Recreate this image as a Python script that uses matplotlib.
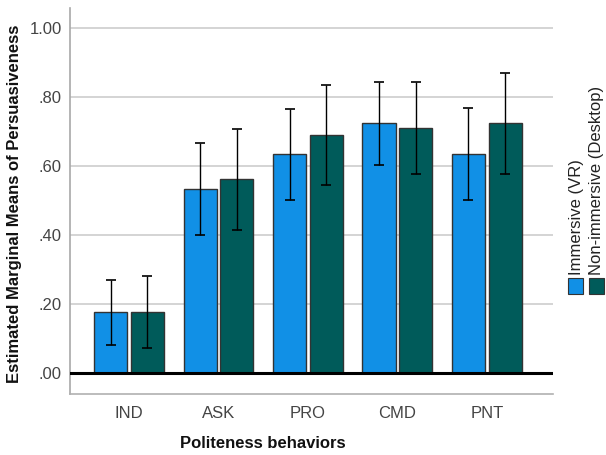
import matplotlib
matplotlib.use("Agg")
import matplotlib.pyplot as plt
import numpy as np
from matplotlib.patches import Rectangle

categories = ["IND", "ASK", "PRO", "CMD", "PNT"]
series_names = ["Immersive (VR)", "Non-immersive (Desktop)"]
vr_means = [0.176, 0.532, 0.634, 0.724, 0.634]
vr_low = [0.081, 0.399, 0.502, 0.602, 0.500]
vr_high = [0.270, 0.667, 0.766, 0.843, 0.769]
dt_means = [0.178, 0.561, 0.689, 0.711, 0.724]
dt_low = [0.073, 0.414, 0.544, 0.578, 0.576]
dt_high = [0.281, 0.708, 0.835, 0.844, 0.870]
yticks = [0.0, 0.2, 0.4, 0.6, 0.8, 1.0]
ytick_labels = [".00", ".20", ".40", ".60", ".80", "1.00"]

colors = ["#1190e6", "#005b5a"]
plt.rcParams['font.family'] = ['Liberation Sans', 'DejaVu Sans']

fig = plt.figure(figsize=(6.06, 4.55), dpi=100)
ax = fig.add_axes([70/606, 1-394/455, (553-70)/606, (394-8)/455])

x = np.arange(len(categories))
w = 0.372
off = 0.205
for i, (m, lo, hi) in enumerate([(vr_means, vr_low, vr_high), (dt_means, dt_low, dt_high)]):
    pos = x + (-off if i == 0 else off)
    m = np.array(m); lo = np.array(lo); hi = np.array(hi)
    ax.bar(pos, m, width=w, color=colors[i], edgecolor="#333333", linewidth=1.0, zorder=3)
    ax.errorbar(pos, m, yerr=[m - lo, hi - m], fmt="none", ecolor="black",
                elinewidth=1.0, capsize=3.5, capthick=1.2, zorder=4)

ax.axhline(0, color="black", linewidth=2.2, zorder=5)
ax.set_ylim(-0.061, 1.058)
ax.set_xlim(-0.66, 4.74)
ax.set_yticks(yticks)
ax.set_yticklabels(ytick_labels)
ax.set_xticks(x)
ax.set_xticklabels(categories)
ax.tick_params(axis="both", length=0, labelsize=12, labelcolor="#444444", pad=6)
ax.tick_params(axis="x", pad=9)
ax.yaxis.grid(True, color="#d4d4d4", linewidth=1.4, zorder=0)
ax.set_axisbelow(True)
for s in ["top", "right"]:
    ax.spines[s].set_visible(False)
ax.spines["left"].set_color("#a8a8a8")
ax.spines["bottom"].set_color("#b0b0b0")
ax.spines["left"].set_linewidth(1.2)
ax.spines["bottom"].set_linewidth(1.2)

fig.text(15/606, 1-204/455, "Estimated Marginal Means of Persuasiveness", rotation=90,
         ha="center", va="center", fontsize=12, fontweight="bold", color="#111111")
fig.text(263/606, 1-443/455, "Politeness behaviors", ha="center", va="center",
         fontsize=12, fontweight="bold", color="#111111")

# vertical legend
for i, name in enumerate(series_names):
    xl = 568 + i * 20.5
    fig.patches.append(Rectangle((xl/606, 1-294/455), 15/606, 16/455, transform=fig.transFigure,
                                 facecolor=colors[i], edgecolor="#333333", linewidth=0.8))
    fig.text((xl + 8)/606, 1-275/455, name, rotation=90, ha="center", va="bottom",
             fontsize=12, color="#222222")

fig.savefig("out.png", dpi=100)
